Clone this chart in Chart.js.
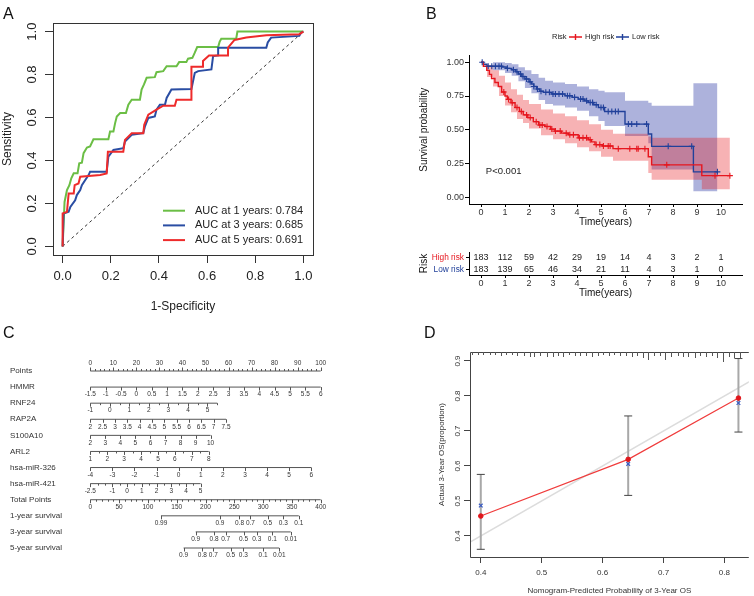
<!DOCTYPE html>
<html>
<head>
<meta charset="utf-8">
<title>Prognostic signature figure</title>
<script src="https://cdn.jsdelivr.net/npm/chart.js@4.4.1/dist/chart.umd.min.js"></script>
<style>
  html, body { margin: 0; padding: 0; background: #fff; }
  #fig { position: relative; width: 754px; height: 596px; overflow: hidden; background: #fff; }
  #fig canvas { position: absolute; left: 0; top: 0; }
  .tag { position: absolute; font: 16px/16px "Liberation Sans", Arial, sans-serif; color: #111; }
</style>
</head>
<body>
<div id="fig">
  <canvas id="rocA" width="754" height="596"></canvas>
  <canvas id="kmB" width="754" height="596"></canvas>
  <canvas id="riskB" width="754" height="596"></canvas>
  <canvas id="nomoC" width="754" height="596"></canvas>
  <canvas id="calD" width="754" height="596"></canvas>
  <div class="tag" style="left:3px;top:6px">A</div>
  <div class="tag" style="left:426px;top:6px">B</div>
  <div class="tag" style="left:3px;top:325px">C</div>
  <div class="tag" style="left:424px;top:325px">D</div>
</div>
<script>
// ---------- Panel A: time-dependent ROC ----------
const rocTicks = [0, 0.2, 0.4, 0.6, 0.8, 1];
const rocLabels = ['AUC at 1 years: 0.784', 'AUC at 3 years: 0.685', 'AUC at 5 years: 0.691'];
const roc1yFpr = [0, 0.004, 0.008, 0.018, 0.028, 0.036, 0.046, 0.062, 0.069, 0.080, 0.087, 0.101, 0.114, 0.128, 0.190, 0.197, 0.211, 0.218, 0.225, 0.239, 0.263, 0.273, 0.287, 0.321, 0.328, 0.338, 0.349, 0.383, 0.390, 0.418, 0.432, 0.473, 0.484, 0.514, 0.521, 0.539, 0.549, 0.559, 0.646, 0.652, 0.659, 0.721, 0.726, 1.0];
const roc1yTpr = [0, 0.106, 0.207, 0.262, 0.285, 0.317, 0.340, 0.340, 0.387, 0.390, 0.434, 0.460, 0.465, 0.499, 0.499, 0.535, 0.535, 0.574, 0.605, 0.621, 0.621, 0.660, 0.683, 0.683, 0.730, 0.754, 0.785, 0.788, 0.811, 0.816, 0.839, 0.839, 0.858, 0.858, 0.874, 0.878, 0.902, 0.928, 0.928, 0.952, 0.967, 0.967, 1.0, 1.0];
const roc3yFpr = [0, 0.004, 0.025, 0.032, 0.052, 0.059, 0.073, 0.080, 0.094, 0.108, 0.114, 0.183, 0.190, 0.211, 0.252, 0.259, 0.287, 0.335, 0.342, 0.356, 0.383, 0.390, 0.404, 0.425, 0.432, 0.452, 0.535, 0.549, 0.563, 0.618, 0.625, 0.646, 0.646, 0.846, 0.852, 0.866, 0.983, 0.990, 1.0];
const roc3yTpr = [0, 0.153, 0.161, 0.184, 0.215, 0.239, 0.262, 0.285, 0.309, 0.332, 0.348, 0.348, 0.418, 0.449, 0.457, 0.488, 0.520, 0.527, 0.559, 0.598, 0.605, 0.637, 0.660, 0.660, 0.691, 0.730, 0.733, 0.808, 0.816, 0.824, 0.886, 0.889, 0.925, 0.925, 0.949, 0.972, 0.980, 0.995, 1.0];
const roc5yFpr = [0, 0, 0.018, 0.025, 0.046, 0.050, 0.066, 0.073, 0.156, 0.183, 0.188, 0.252, 0.259, 0.287, 0.335, 0.339, 0.356, 0.390, 0.418, 0.466, 0.473, 0.535, 0.535, 0.583, 0.583, 0.608, 0.687, 0.687, 0.714, 0.763, 0.846, 0.983, 1.0];
const roc5yTpr = [0, 0.153, 0.161, 0.246, 0.246, 0.285, 0.293, 0.324, 0.332, 0.340, 0.441, 0.441, 0.496, 0.527, 0.527, 0.566, 0.613, 0.637, 0.655, 0.655, 0.683, 0.683, 0.836, 0.836, 0.863, 0.889, 0.889, 0.925, 0.961, 0.972, 0.983, 0.988, 1.0];

// ---------- Panel B: Kaplan-Meier by risk group ----------
const kmTicksX = [0, 1, 2, 3, 4, 5, 6, 7, 8, 9, 10];
const kmTicksY = [0, 0.25, 0.5, 0.75, 1];
const groups = ['High risk', 'Low risk'];
const highTime = [0, 0.1, 0.24, 0.35, 0.44, 0.58, 0.72, 0.86, 1.0, 1.1, 1.25, 1.42, 1.6, 1.76, 1.95, 2.18, 2.4, 2.67, 2.9, 3.08, 3.35, 3.64, 4.05, 4.47, 4.6, 4.75, 5.05, 5.5, 6.97, 7.11, 9.2, 10.37];
const highSurv = [1, 0.97, 0.94, 0.91, 0.88, 0.85, 0.82, 0.78, 0.75, 0.725, 0.70, 0.665, 0.635, 0.61, 0.59, 0.56, 0.535, 0.524, 0.505, 0.49, 0.475, 0.463, 0.44, 0.426, 0.41, 0.39, 0.38, 0.36, 0.30, 0.24, 0.16, 0.16];
const lowTime = [0, 0.1, 0.25, 0.9, 1.05, 1.28, 1.45, 1.56, 1.7, 1.83, 2.0, 2.11, 2.2, 2.32, 2.45, 2.6, 2.95, 3.5, 3.8, 4.05, 4.3, 4.47, 4.7, 4.89, 5.15, 6.0, 6.97, 7.11, 8.85, 9.85];
const lowSurv = [1, 0.985, 0.97, 0.965, 0.955, 0.945, 0.93, 0.913, 0.895, 0.876, 0.855, 0.839, 0.82, 0.802, 0.785, 0.777, 0.765, 0.752, 0.74, 0.727, 0.714, 0.702, 0.685, 0.665, 0.635, 0.542, 0.468, 0.377, 0.188, 0.188];
const highCiTime = [0, 0.25, 0.5, 0.75, 1.0, 1.25, 1.5, 1.75, 2.0, 2.5, 3.0, 3.5, 4.0, 4.5, 5.0, 5.5, 6.97, 7.11, 9.2, 10.37];
const highUpper = [1, 0.98, 0.94, 0.90, 0.85, 0.80, 0.76, 0.72, 0.69, 0.65, 0.62, 0.60, 0.57, 0.54, 0.50, 0.47, 0.45, 0.44, 0.44, 0.44];
const highLower = [1, 0.89, 0.82, 0.75, 0.68, 0.63, 0.58, 0.55, 0.51, 0.46, 0.43, 0.40, 0.37, 0.34, 0.30, 0.27, 0.18, 0.13, 0.06, 0.06];
const lowCiTime = [0, 0.5, 1.0, 1.28, 1.56, 1.83, 2.1, 2.4, 2.67, 3.0, 3.5, 4.0, 4.5, 4.89, 5.15, 6.0, 6.97, 7.11, 8.85, 9.85];
const lowUpper = [1, 1, 0.995, 0.985, 0.963, 0.94, 0.913, 0.885, 0.863, 0.85, 0.838, 0.82, 0.80, 0.789, 0.777, 0.714, 0.70, 0.677, 0.844, 0.844];
const lowLower = [1, 0.94, 0.92, 0.90, 0.86, 0.81, 0.77, 0.72, 0.69, 0.68, 0.665, 0.64, 0.60, 0.565, 0.528, 0.454, 0.40, 0.206, 0.045, 0.045];
const highCensor = [0.95, 1.15, 1.3, 1.5, 1.68, 1.9, 2.05, 2.3, 2.45, 2.55, 2.75, 2.95, 3.1, 3.3, 3.55, 3.7, 3.85, 4.1, 4.25, 4.4, 4.55, 4.8, 4.95, 5.1, 5.3, 5.38, 5.72, 6.2, 6.49, 6.55, 6.83, 7.74, 9.75, 10.37];
const lowCensor = [0.05, 0.3, 0.45, 0.6, 0.75, 0.85, 1.1, 1.35, 1.5, 1.65, 1.75, 1.9, 2.05, 2.2, 2.35, 2.5, 2.7, 2.85, 3.0, 3.1, 3.25, 3.4, 3.6, 3.7, 3.9, 4.15, 4.25, 4.4, 4.55, 4.65, 4.8, 5.0, 5.1, 5.3, 5.45, 5.6, 5.72, 6.14, 6.28, 6.49, 6.9, 7.8, 8.78, 9.85];
const riskHigh = [183, 112, 59, 42, 29, 19, 14, 4, 3, 2, 1];
const riskLow = [183, 139, 65, 46, 34, 21, 11, 4, 3, 1, 0];

// ---------- Panel C: nomogram ----------
const nomoRows = ['Points', 'HMMR', 'RNF24', 'RAP2A', 'S100A10', 'ARL2', 'hsa-miR-326', 'hsa-miR-421', 'Total Points', '1-year survival', '3-year survival', '5-year survival'];
const pointsTicks = [0, 10, 20, 30, 40, 50, 60, 70, 80, 90, 100];
const hmmrTicks = [-1.5, -1, -0.5, 0, 0.5, 1, 1.5, 2, 2.5, 3, 3.5, 4, 4.5, 5, 5.5, 6];
const rnf24Ticks = [-1, 0, 1, 2, 3, 4, 5];
const rap2aTicks = [2, 2.5, 3, 3.5, 4, 4.5, 5, 5.5, 6, 6.5, 7, 7.5];
const s100a10Ticks = [2, 3, 4, 5, 6, 7, 8, 9, 10];
const arl2Ticks = [1, 2, 3, 4, 5, 6, 7, 8];
const mir326Ticks = [-4, -3, -2, -1, 0, 1, 2, 3, 4, 5, 6];
const mir421Ticks = [-2.5, -1, 0, 1, 2, 3, 4, 5];
const totalTicks = [0, 50, 100, 150, 200, 250, 300, 350, 400];
// value range of each linear row and the points reached at its right end
const nomoRanges = [[0, 100], [-1.5, 6], [-1, 5.5], [2, 7.5], [2, 10], [1, 8], [-4, 6], [-2.5, 5], [0, 400]];
const nomoEndPoints = [100, 100, 55.1, 58.9, 52.2, 51.4, 95.9, 47.9, 100];
const nomoMinorStep = [2, 0, 0.5, 0, 0, 0.5, 0, 0.5, 10];
const surv1Labels = ['0.99', '0.9', '0.8', '0.7', '0.5', '0.3', '0.1'];
const surv1Total = [122.7, 225, 259, 278, 308, 335, 362];
const surv3Labels = ['0.9', '0.8', '0.7', '0.5', '0.3', '0.1', '0.01'];
const surv3Total = [183, 215, 235, 266, 289, 316, 348];
const surv5Labels = ['0.9', '0.8', '0.7', '0.5', '0.3', '0.1', '0.01'];
const surv5Total = [162, 194.5, 213.6, 243.7, 265.7, 300, 328];

// ---------- Panel D: calibration ----------
const calTicksX = [0.4, 0.5, 0.6, 0.7, 0.8];
const calTicksY = [0.4, 0.5, 0.6, 0.7, 0.8, 0.9];
const calPred = [0.400, 0.642, 0.823];
const calObs = [0.457, 0.619, 0.794];
const calCorrected = [0.487, 0.606, 0.780];
const calLo = [0.362, 0.516, 0.697];
const calHi = [0.576, 0.743, 0.907];
const rugPred = [0.386, 0.396, 0.404, 0.415, 0.424, 0.433, 0.442, 0.452, 0.460, 0.471, 0.480, 0.488, 0.498, 0.509, 0.518, 0.526, 0.535, 0.545, 0.554, 0.563, 0.573, 0.583, 0.592, 0.600, 0.610, 0.619, 0.628, 0.638, 0.648, 0.657, 0.666, 0.675, 0.685, 0.694, 0.703, 0.713, 0.723, 0.732, 0.741, 0.751, 0.760, 0.769, 0.779, 0.788, 0.797, 0.807, 0.815, 0.825];
const rugFreq = [3, 3, 3, 3, 3, 4, 3, 3, 4, 4, 5, 5, 4, 5, 5, 4, 5, 3, 4, 4, 4, 5, 4, 3, 4, 3, 4, 4, 5, 4, 6, 8, 4, 4, 8, 5, 4, 5, 5, 6, 4, 5, 4, 6, 10, 5, 6, 7];

// ---------- helpers ----------
const FONT = '"Liberation Sans", Arial, Helvetica, sans-serif';
Chart.defaults.font.family = FONT;
Chart.defaults.color = '#222';
Chart.defaults.plugins.legend.display = false;
Chart.defaults.plugins.tooltip.enabled = false;

const xy = (xs, ys) => xs.map((x, i) => ({ x, y: ys[i] }));
const fixTicks = (values) => (scale) => { scale.ticks = values.map((v) => ({ value: v })); };
const base = (padding) => ({ responsive: false, animation: false, devicePixelRatio: 1, layout: { padding } });

function text(ctx, str, x, y, font, color, align = 'center', rot = 0) {
  ctx.save();
  ctx.font = font;
  ctx.fillStyle = color;
  ctx.textAlign = align;
  ctx.textBaseline = 'middle';
  ctx.translate(x, y);
  if (rot) ctx.rotate(rot);
  ctx.fillText(str, 0, 0);
  ctx.restore();
}

function survAt(times, surv, t) {
  let s = surv[0];
  times.forEach((ti, i) => { if (ti <= t) s = surv[i]; });
  return s;
}

// ---------- A ----------
const rocColors = ['#6BBE45', '#2A4DA3', '#EE2B2B'];
const rocSeries = [[roc1yFpr, roc1yTpr], [roc3yFpr, roc3yTpr], [roc5yFpr, roc5yTpr]];

const rocDecor = {
  id: 'rocDecor',
  afterDraw(chart) {
    const { ctx, chartArea: a, scales: { y } } = chart;
    ctx.save();
    ctx.strokeStyle = '#333';
    ctx.lineWidth = 1;
    ctx.strokeRect(a.left + 0.5, a.top + 0.5, a.right - a.left, a.bottom - a.top);
    y.ticks.forEach((t) => {
      text(ctx, t.value.toFixed(1), a.left - 21, y.getPixelForValue(t.value), `13px ${FONT}`, '#222', 'center', -Math.PI / 2);
    });
    // legend in the lower right corner
    rocLabels.forEach((lab, i) => {
      const yy = a.bottom - 44.3 + i * 14.7;
      ctx.strokeStyle = rocColors[i];
      ctx.lineWidth = 2;
      ctx.beginPath();
      ctx.moveTo(a.right - 150, yy);
      ctx.lineTo(a.right - 128, yy);
      ctx.stroke();
      text(ctx, lab, a.right - 118, yy, `11px ${FONT}`, '#222', 'left');
    });
    ctx.restore();
  },
};

new Chart(document.getElementById('rocA'), {
  type: 'scatter',
  data: {
    datasets: [
      ...rocSeries.map(([f, t], i) => ({
        label: rocLabels[i],
        data: xy(f, t),
        showLine: true,
        borderColor: rocColors[i],
        borderWidth: 2,
        pointRadius: 0,
        order: 3 - i,
      })),
      {
        label: 'reference',
        data: xy([0, 1], [0, 1]),
        showLine: true,
        borderColor: '#333',
        borderWidth: 1,
        borderDash: [3, 3],
        pointRadius: 0,
        order: 4,
      },
    ],
  },
  options: {
    ...base({ left: 0, top: 23, right: 441, bottom: 282 }),
    scales: {
      x: {
        type: 'linear', min: -0.04, max: 1.04,
        afterBuildTicks: fixTicks(rocTicks),
        afterFit: (s) => { s.height = 59; },
        border: { display: false },
        grid: { drawOnChartArea: false, tickLength: 8, color: '#333' },
        ticks: { font: { size: 13 }, color: '#222', padding: 6, maxRotation: 0, autoSkip: false, callback: (v) => Number(v).toFixed(1) },
        title: { display: true, text: '1-Specificity', font: { size: 12 }, color: '#222', padding: 0 },
      },
      y: {
        type: 'linear', min: -0.04, max: 1.04,
        afterBuildTicks: fixTicks(rocTicks),
        afterFit: (s) => { s.width = 53; },
        border: { display: false },
        grid: { drawOnChartArea: false, tickLength: 8, color: '#333' },
        ticks: { display: false },
        title: { display: true, text: 'Sensitivity', font: { size: 12 }, color: '#222', padding: 0 },
      },
    },
  },
  plugins: [rocDecor],
});

// ---------- B: survival curves ----------
const kmColors = ['#E6161E', '#21409A'];
const kmFills = ['rgba(232, 30, 36, 0.34)', 'rgba(33, 45, 160, 0.37)'];

const band = (times, vals, i, fill) => ({
  data: xy(times, vals), showLine: true, stepped: 'before',
  borderColor: 'transparent', borderWidth: 0, pointRadius: 0,
  fill: fill ? '+1' : false, backgroundColor: kmFills[i], order: 10,
});
const curve = (times, vals, i) => ({
  data: xy(times, vals), showLine: true, stepped: 'before',
  borderColor: kmColors[i], borderWidth: 1.4, pointRadius: 0, order: 2,
});
const censor = (cens, times, vals, i) => ({
  data: cens.map((t) => ({ x: t, y: survAt(times, vals, t) })),
  showLine: false, pointStyle: 'cross', pointRadius: 3, borderWidth: 1.1,
  borderColor: kmColors[i], order: 1,
});

const kmDecor = {
  id: 'kmDecor',
  afterDraw(chart) {
    const { ctx, scales: { x, y } } = chart;
    text(ctx, 'P<0.001', x.getPixelForValue(0.2), y.getPixelForValue(0.19), `9.5px ${FONT}`, '#222', 'left');
    // legend above the panel
    const ly = 37;
    text(ctx, 'Risk', 552, ly, `7.5px ${FONT}`, '#222', 'left');
    const keys = [[569, 585], [616, 632]];
    groups.forEach((g, i) => {
      const [kx, tx] = keys[i];
      ctx.save();
      ctx.strokeStyle = kmColors[i];
      ctx.lineWidth = 1.4;
      ctx.beginPath();
      ctx.moveTo(kx, ly); ctx.lineTo(kx + 13, ly);
      ctx.moveTo(kx + 6.5, ly - 3); ctx.lineTo(kx + 6.5, ly + 3);
      ctx.stroke();
      ctx.restore();
      text(ctx, g, tx, ly, `7.5px ${FONT}`, '#222', 'left');
    });
  },
};

new Chart(document.getElementById('kmB'), {
  type: 'scatter',
  data: {
    datasets: [
      band(highCiTime, highUpper, 0, true),
      band(highCiTime, highLower, 0, false),
      band(lowCiTime, lowUpper, 1, true),
      band(lowCiTime, lowLower, 1, false),
      curve(highTime, highSurv, 0),
      curve(lowTime, lowSurv, 1),
      censor(highCensor, highTime, highSurv, 0),
      censor(lowCensor, lowTime, lowSurv, 1),
    ],
  },
  options: {
    ...base({ left: 418, top: 55.5, right: 12, bottom: 368 }),
    scales: {
      x: {
        type: 'linear', min: -0.5, max: 10.875,
        afterBuildTicks: fixTicks(kmTicksX),
        afterFit: (s) => { s.height = 24; },
        border: { display: true, color: '#000', width: 1 },
        grid: { drawOnChartArea: false, tickLength: 3, color: '#000' },
        ticks: { font: { size: 9 }, color: '#333', padding: 0, maxRotation: 0, autoSkip: false },
        title: { display: true, text: 'Time(years)', font: { size: 10 }, color: '#111', padding: 0 },
      },
      y: {
        type: 'linear', min: -0.05, max: 1.05,
        afterBuildTicks: fixTicks(kmTicksY),
        afterFit: (s) => { s.width = 51; },
        border: { display: true, color: '#000', width: 1 },
        grid: { drawOnChartArea: false, tickLength: 4, color: '#000' },
        ticks: { font: { size: 9 }, color: '#333', padding: 1, callback: (v) => Number(v).toFixed(2) },
        title: { display: true, text: 'Survival probability', font: { size: 10 }, color: '#111', padding: 0 },
      },
    },
  },
  plugins: [kmDecor],
});

// ---------- B: number at risk ----------
const riskNumbers = {
  id: 'riskNumbers',
  afterDraw(chart) {
    const { ctx, scales: { x, y } } = chart;
    [riskHigh, riskLow].forEach((row, r) => {
      row.forEach((n, i) => {
        text(ctx, String(n), x.getPixelForValue(kmTicksX[i]), y.getPixelForValue(r), `9px ${FONT}`, '#222');
      });
    });
  },
};

new Chart(document.getElementById('riskB'), {
  type: 'scatter',
  data: { datasets: [] },
  options: {
    ...base({ left: 418, top: 252, right: 12, bottom: 297 }),
    scales: {
      x: {
        type: 'linear', min: -0.5, max: 10.875,
        afterBuildTicks: fixTicks(kmTicksX),
        afterFit: (s) => { s.height = 24; },
        border: { display: true, color: '#000', width: 1 },
        grid: { drawOnChartArea: false, tickLength: 3, color: '#000' },
        ticks: { font: { size: 9 }, color: '#333', padding: 0, maxRotation: 0, autoSkip: false },
        title: { display: true, text: 'Time(years)', font: { size: 10 }, color: '#111', padding: 0 },
      },
      y: {
        type: 'category', labels: groups, offset: true,
        afterFit: (s) => { s.width = 51; },
        border: { display: true, color: '#000', width: 1 },
        grid: { drawOnChartArea: false, tickLength: 3, color: '#000' },
        ticks: { font: { size: 8.3 }, padding: 2, autoSkip: false, color: (c) => kmColors[c.index] },
        title: { display: true, text: 'Risk', font: { size: 10 }, color: '#111', padding: 0 },
      },
    },
  },
  plugins: [riskNumbers],
});

// ---------- C: nomogram ----------
const nomoTickValues = [pointsTicks, hmmrTicks, rnf24Ticks, rap2aTicks, s100a10Ticks, arl2Ticks, mir326Ticks, mir421Ticks, totalTicks];
const survLabels = [surv1Labels, surv3Labels, surv5Labels];
const survTotals = [surv1Total, surv3Total, surv5Total];
const totalPerPoint = nomoRanges[8][1] / nomoEndPoints[8];

function nomoMarks(i) {
  if (i < 9) {
    const [v0, v1] = nomoRanges[i];
    const toPts = (v) => ((v - v0) / (v1 - v0)) * nomoEndPoints[i];
    const major = nomoTickValues[i].map((v) => ({ pts: toPts(v), label: String(v) }));
    const minor = [];
    const step = nomoMinorStep[i];
    if (step) {
      for (let v = v0; v <= v1 + 1e-9; v += step) {
        const r = Math.round(v * 100) / 100;
        if (!nomoTickValues[i].includes(r)) minor.push(toPts(r));
      }
    }
    return { major, minor };
  }
  const k = i - 9;
  return { major: survLabels[k].map((lab, j) => ({ pts: survTotals[k][j] / totalPerPoint, label: lab })), minor: [] };
}

const nomoDecor = {
  id: 'nomoDecor',
  afterDraw(chart) {
    const { ctx, scales: { x, y } } = chart;
    ctx.save();
    ctx.strokeStyle = '#555';
    ctx.lineWidth = 1;
    nomoRows.forEach((row, i) => {
      const py = y.getPixelForValue(i);
      const dir = i === 0 ? -1 : 1;
      const m = nomoMarks(i);
      ctx.beginPath();
      m.major.forEach((t) => {
        const px = Math.round(x.getPixelForValue(t.pts)) + 0.5;
        ctx.moveTo(px, py); ctx.lineTo(px, py + dir * 3.5);
      });
      m.minor.forEach((p) => {
        const px = Math.round(x.getPixelForValue(p)) + 0.5;
        ctx.moveTo(px, py); ctx.lineTo(px, py + dir * 2);
      });
      ctx.stroke();
      m.major.forEach((t) => {
        text(ctx, t.label, x.getPixelForValue(t.pts), py + dir * 7.5, `6.5px ${FONT}`, '#333');
      });
    });
    ctx.restore();
  },
};

new Chart(document.getElementById('nomoC'), {
  type: 'scatter',
  data: {
    datasets: nomoRows.map((row, i) => {
      const m = nomoMarks(i);
      const xs = m.major.map((t) => t.pts).concat(m.minor);
      return {
        data: [{ x: Math.min(...xs), y: row }, { x: Math.max(...xs), y: row }],
        showLine: true, borderColor: '#555', borderWidth: 1, pointRadius: 0, clip: false,
      };
    }),
  },
  options: {
    ...base({ left: 10, top: 371, right: 433.3, bottom: 48 }),
    scales: {
      x: { type: 'linear', min: 0, max: 100, display: false },
      y: {
        type: 'category', labels: nomoRows, offset: false,
        afterFit: (s) => { s.width = 80.3; },
        border: { display: false },
        grid: { display: false },
        ticks: { crossAlign: 'far', font: { size: 8 }, color: '#333', padding: 0, autoSkip: false },
      },
    },
  },
  plugins: [nomoDecor],
});

// ---------- D: calibration curve ----------
const errData = calPred.flatMap((p, i) => [{ x: p, y: calLo[i] }, { x: p, y: calHi[i] }, { x: p, y: null }]);
const capData = calPred.flatMap((p, i) => [{ x: p, y: calLo[i] }, { x: p, y: calHi[i] }]);

const calDecor = {
  id: 'calDecor',
  afterDraw(chart) {
    const { ctx, chartArea: a, scales: { x, y } } = chart;
    ctx.save();
    ctx.strokeStyle = '#444';
    ctx.lineWidth = 1;
    ctx.beginPath();
    ctx.moveTo(a.right, a.top + 0.5); ctx.lineTo(a.left + 0.5, a.top + 0.5);
    ctx.lineTo(a.left + 0.5, a.bottom + 0.5); ctx.lineTo(a.right, a.bottom + 0.5);
    ctx.stroke();
    // rug of predicted probabilities hanging from the top border
    ctx.strokeStyle = '#555';
    ctx.beginPath();
    rugPred.forEach((p, i) => {
      const px = Math.round(x.getPixelForValue(p)) + 0.5;
      ctx.moveTo(px, a.top); ctx.lineTo(px, a.top + rugFreq[i]);
    });
    ctx.stroke();
    y.ticks.forEach((t) => {
      text(ctx, t.value.toFixed(1), a.left - 12, y.getPixelForValue(t.value), `8px ${FONT}`, '#333', 'center', -Math.PI / 2);
    });
    ctx.restore();
  },
};

new Chart(document.getElementById('calD'), {
  type: 'scatter',
  data: {
    datasets: [
      { data: xy([0.3, 0.9], [0.3, 0.9]), showLine: true, borderColor: '#DCDCDC', borderWidth: 1.5, pointRadius: 0, order: 5 },
      { data: errData, showLine: true, spanGaps: false, borderColor: '#A8A8A8', borderWidth: 2, pointRadius: 0, order: 4 },
      { data: capData, showLine: false, pointStyle: 'line', pointRadius: 4, borderColor: '#444', borderWidth: 1, order: 3 },
      {
        data: xy(calPred, calObs), showLine: true, borderColor: '#F03C3C', borderWidth: 1.2,
        pointRadius: 2.3, pointBackgroundColor: '#E0161B', pointBorderColor: '#E0161B', pointBorderWidth: 1, order: 1,
      },
      { data: xy(calPred, calCorrected), showLine: false, pointStyle: 'crossRot', pointRadius: 2.6, borderColor: '#3A5BC0', borderWidth: 1.2, order: 2 },
    ],
  },
  options: {
    ...base({ left: 437.2, top: 352, right: 0, bottom: 0 }),
    scales: {
      x: {
        type: 'linear', min: 0.3823, max: 0.84,
        afterBuildTicks: fixTicks(calTicksX),
        afterFit: (s) => { s.height = 39; },
        border: { display: false },
        grid: { drawOnChartArea: false, tickLength: 6, color: '#444' },
        ticks: { font: { size: 8 }, color: '#333', padding: 5, maxRotation: 0, autoSkip: false, callback: (v) => Number(v).toFixed(1) },
        title: { display: true, text: 'Nomogram-Predicted Probability of 3-Year OS', font: { size: 8 }, color: '#333', padding: 0 },
      },
      y: {
        type: 'linear', min: 0.34, max: 0.9257,
        afterBuildTicks: fixTicks(calTicksY),
        afterFit: (s) => { s.width = 32.8; },
        border: { display: false },
        grid: { drawOnChartArea: false, tickLength: 6, color: '#444' },
        ticks: { display: false },
        title: { display: true, text: 'Actual 3-Year OS(proportion)', font: { size: 8 }, color: '#333', padding: 0 },
      },
    },
  },
  plugins: [calDecor],
});
</script>
</body>
</html>
